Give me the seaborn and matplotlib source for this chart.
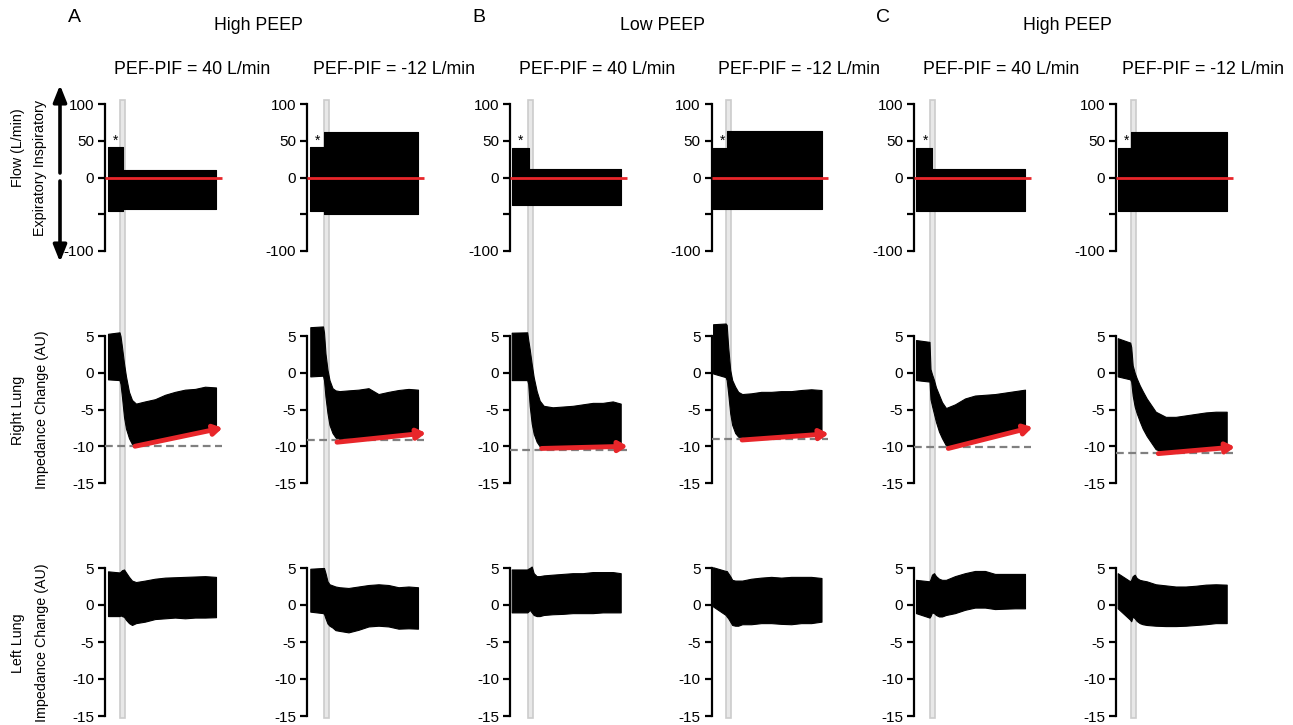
import matplotlib
matplotlib.use('Agg')
import matplotlib.pyplot as plt
import matplotlib.transforms as mtransforms
from matplotlib.patches import Rectangle, FancyArrowPatch
import seaborn as sns

# panel headers
group_letters = ['A', 'B', 'C']
group_titles = ['High PEEP', 'Low PEEP', 'High PEEP']
panel_titles = ['PEF-PIF = 40 L/min', 'PEF-PIF = -12 L/min'] * 3

# timing of each recording (s): first sample, manoeuvre onset, last sample
t_start = [3, 3.3, 1.7, 1.6, 1.7, 1.7]
t_onset = [15, 16.5, 17.7, 14.7, 15.7, 14.7]
t_end = [111, 111, 110.7, 110, 110.7, 110.7]
t_flow_step = [18.3, 16.6, 19.0, 15.5, 18.0, 15.0]
rel_t = [-0.5, 0.5, 2, 4, 6, 9, 12, 16, 25, 35, 45, 55, 65, 75, 85]

# flow envelope (L/min) before / after the step
flow_hi_pre = [42, 42, 40, 40, 40, 40]
flow_hi_post = [10.5, 62.5, 12, 63, 12, 62]
flow_lo_pre = [-45.5, -46, -38, -43, -46, -46]
flow_lo_post = [-43, -49, -38, -43, -46, -46]

# right lung impedance envelope (AU): start, rel_t points, end
rl_hi = [
    [5.3, 5.5, 5.0, 3.5, 1.3, -0.5, -2.6, -3.7, -4.2, -3.9, -3.6, -3.0, -2.6, -2.3, -2.2, -1.9, -2.0],
    [6.2, 6.3, 5.5, 2.6, 0.4, -1.0, -2.1, -2.4, -2.5, -2.4, -2.3, -2.1, -2.9, -2.6, -2.35, -2.2, -2.3],
    [5.45, 5.5, 4.5, 3.2, 1.2, -0.6, -2.5, -3.8, -4.5, -4.7, -4.6, -4.5, -4.3, -4.1, -4.1, -3.9, -4.2],
    [6.6, 6.7, 6.5, 3.5, 0.4, -1.0, -1.9, -2.6, -2.9, -2.8, -2.6, -2.6, -2.5, -2.5, -2.35, -2.25, -2.35],
    [4.45, 4.2, 0.5, -0.2, -1.0, -2.0, -3.0, -4.0, -4.8, -4.3, -3.5, -3.1, -3.0, -2.9, -2.7, -2.5, -2.3],
    [4.7, 4.1, 3.5, 1.0, 0.0, -0.75, -1.7, -2.5, -3.5, -5.3, -6.0, -6.0, -5.8, -5.6, -5.4, -5.3, -5.3],
]
rl_lo = [
    [-0.9, -1.0, -1.5, -3.3, -6.0, -7.6, -8.9, -9.7, -9.9, -9.7, -9.4, -9.1, -8.9, -8.6, -8.3, -8.0, -7.7],
    [-0.5, -0.4, -1.0, -3.3, -5.5, -7.1, -8.2, -8.8, -9.2, -9.3, -9.1, -9.0, -8.85, -8.7, -8.6, -8.45, -8.3],
    [-1.0, -1.0, -1.5, -4.5, -6.9, -8.3, -9.4, -10.0, -10.2, -10.2, -10.15, -10.1, -10.1, -10.05, -10.0, -10.0, -10.0],
    [-0.1, -0.6, -1.0, -2.8, -5.5, -7.1, -8.2, -8.7, -8.9, -8.95, -8.85, -8.75, -8.65, -8.55, -8.5, -8.4, -8.35],
    [-1.0, -1.2, -3.6, -4.5, -5.6, -6.7, -8.0, -8.9, -9.9, -10.1, -9.75, -9.4, -9.1, -8.7, -8.4, -8.0, -7.7],
    [-0.5, -0.9, -1.2, -3.1, -4.6, -5.5, -6.6, -7.6, -8.6, -10.4, -10.9, -10.8, -10.7, -10.6, -10.45, -10.35, -10.25],
]

# left lung impedance envelope (AU)
ll_hi = [
    [4.55, 4.4, 4.5, 4.7, 4.8, 4.4, 3.8, 3.3, 3.1, 3.3, 3.55, 3.7, 3.75, 3.8, 3.85, 3.9, 3.8],
    [4.9, 5.0, 5.0, 4.3, 3.2, 2.8, 2.65, 2.5, 2.4, 2.3, 2.5, 2.7, 2.8, 2.7, 2.4, 2.5, 2.4],
    [4.8, 4.8, 4.9, 5.0, 5.2, 4.3, 3.9, 3.9, 4.0, 4.1, 4.2, 4.3, 4.3, 4.45, 4.45, 4.45, 4.3],
    [5.1, 4.6, 4.6, 4.3, 3.9, 3.4, 3.3, 3.3, 3.3, 3.55, 3.7, 3.8, 3.7, 3.8, 3.8, 3.8, 3.65],
    [3.4, 3.2, 3.5, 4.1, 4.3, 3.9, 3.55, 3.4, 3.4, 3.9, 4.3, 4.6, 4.6, 4.2, 4.2, 4.2, 4.2],
    [4.3, 3.2, 3.4, 3.9, 4.1, 3.65, 3.4, 3.3, 3.2, 2.8, 2.65, 2.5, 2.5, 2.6, 2.75, 2.8, 2.75],
]
ll_lo = [
    [-1.5, -1.5, -1.4, -1.5, -1.6, -2.0, -2.45, -2.7, -2.45, -2.25, -1.9, -1.8, -1.7, -1.8, -1.7, -1.7, -1.65],
    [-0.9, -1.1, -1.2, -1.8, -2.5, -2.8, -3.05, -3.4, -3.5, -3.7, -3.35, -2.9, -2.8, -2.9, -3.2, -3.15, -3.2],
    [-1.0, -1.0, -0.9, -0.65, -1.0, -1.35, -1.5, -1.5, -1.35, -1.25, -1.2, -1.1, -1.1, -1.1, -1.0, -1.0, -1.0],
    [-0.2, -1.35, -1.55, -1.8, -2.25, -2.7, -2.8, -2.8, -2.6, -2.6, -2.45, -2.45, -2.55, -2.6, -2.45, -2.45, -2.25],
    [-1.1, -1.7, -1.5, -1.0, -1.1, -1.35, -1.55, -1.55, -1.35, -1.1, -0.65, -0.35, -0.35, -0.55, -0.5, -0.45, -0.45],
    [-0.45, -2.0, -2.2, -1.55, -1.8, -2.15, -2.45, -2.6, -2.7, -2.8, -2.85, -2.85, -2.8, -2.7, -2.6, -2.45, -2.45],
]

# end-expiratory baseline and trend arrow on the right lung
rl_baseline = [-10, -9.15, -10.5, -9.05, -10.15, -10.9]
arrow_t0 = [30, 30, 31.7, 30.6, 34, 42.3]
arrow_y0 = [-10, -9.45, -10.3, -9.15, -10.3, -11.0]
arrow_t1 = [117.7, 119, 117.7, 117.3, 118.4, 119]
arrow_y1 = [-7.5, -8.2, -10.0, -8.3, -7.4, -10.1]
line_end = 116.5

RED = '#e8262a'
GREY = '#808080'
W, H = 1293, 725

sns.set_theme(style='ticks', rc={'axes.edgecolor': 'black', 'ytick.color': 'black',
                                 'text.color': 'black', 'axes.labelcolor': 'black'})
plt.rcParams['font.family'] = ['Liberation Sans', 'DejaVu Sans']
plt.rcParams['axes.unicode_minus'] = False

fig = plt.figure(figsize=(W / 100, H / 100), dpi=100)

spine_px = [105, 307, 510, 711.5, 914.3, 1116]
rows_px = [(104, 251), (336, 483), (568, 716)]


def make_axis(col, row):
    top, bot = rows_px[row]
    ax = fig.add_axes([spine_px[col] / W, 1 - bot / H, 125 / W, (bot - top) / H])
    ax.set_facecolor('none')
    sns.despine(ax=ax, bottom=True)
    ax.set_xlim(0, 125)
    ax.set_xticks([])
    ax.spines['left'].set_linewidth(1.6)
    ax.tick_params(axis='y', length=5, width=1.6, labelsize=11, pad=3)
    return ax


for i in range(6):
    times = [t_start[i]] + [t_onset[i] + r for r in rel_t] + [t_end[i]]

    # flow
    ax = make_axis(i, 0)
    ft = [t_start[i], t_flow_step[i], t_flow_step[i], t_end[i]]
    ax.fill_between(ft, [flow_lo_pre[i], flow_lo_pre[i], flow_lo_post[i], flow_lo_post[i]],
                    [flow_hi_pre[i], flow_hi_pre[i], flow_hi_post[i], flow_hi_post[i]],
                    color='black', lw=0.8)
    ax.hlines(0, 0, line_end, color=RED, lw=2, zorder=3)
    ax.set_ylim(-100, 100)
    ax.set_yticks([100, 50, 0, -50, -100])
    ax.set_yticklabels(['100', '50', '0', '', '-100'])
    ax.text(11, 50, '*', ha='center', va='center', fontsize=10)
    top_ax = ax

    # right lung
    ax = make_axis(i, 1)
    ax.fill_between(times, rl_lo[i], rl_hi[i], color='black', lw=0.8, clip_on=False)
    ax.hlines(rl_baseline[i], 0, line_end, color=GREY, lw=1.6, ls=(0, (3.5, 2)), zorder=3, clip_on=False)
    ax.add_patch(FancyArrowPatch((arrow_t0[i], arrow_y0[i]), (arrow_t1[i], arrow_y1[i]),
                                 arrowstyle='-|>,head_length=0.5,head_width=0.3', mutation_scale=10,
                                 lw=3.5, color=RED, shrinkA=0, shrinkB=0, zorder=4, clip_on=False))
    ax.set_ylim(-15, 5)
    ax.set_yticks([5, 0, -5, -10, -15])

    # left lung
    ax = make_axis(i, 2)
    ax.fill_between(times, ll_lo[i], ll_hi[i], color='black', lw=0.8, clip_on=False)
    ax.set_ylim(-15, 5)
    ax.set_yticks([5, 0, -5, -10, -15])

    # manoeuvre band across the three rows
    trans = mtransforms.blended_transform_factory(top_ax.transData, fig.transFigure)
    fig.add_artist(Rectangle((t_onset[i], 1 - 718 / H), 5, 618 / H, transform=trans,
                             facecolor='#e8e8e8', edgecolor='#cccccc', lw=1.2, zorder=-1))

    fig.text((spine_px[i] + 87) / W, 1 - 70 / H, panel_titles[i], ha='center', va='center', fontsize=12.8)

for g in range(3):
    mid = (spine_px[2 * g] + spine_px[2 * g + 1]) / 2 + 52
    fig.text(mid / W, 1 - 25 / H, group_titles[g], ha='center', va='center', fontsize=12.8)
    fig.text((spine_px[2 * g] - 31) / W, 1 - 18 / H, group_letters[g], ha='center', va='center', fontsize=14)

# y labels
fig.text(18 / W, 1 - 148 / H, 'Flow (L/min)', rotation=90, ha='center', va='center', fontsize=10.3)
fig.text(40 / W, 1 - 168 / H, 'Expiratory Inspiratory', rotation=90, ha='center', va='center', fontsize=10.3)
for row, name, cy in [(1, 'Right Lung', 410), (2, 'Left Lung', 643)]:
    fig.text(18 / W, 1 - cy / H, name, rotation=90, ha='center', va='center', fontsize=10.3)
    fig.text(42 / W, 1 - cy / H, 'Impedance Change (AU)', rotation=90, ha='center', va='center', fontsize=10.3)

# direction arrows next to the flow axis
for y0, y1 in [(173, 85), (181, 262)]:
    fig.add_artist(FancyArrowPatch((60 / W, 1 - y0 / H), (60 / W, 1 - y1 / H), transform=fig.transFigure,
                                   arrowstyle='-|>,head_length=1.0,head_width=0.4', mutation_scale=10,
                                   lw=2.6, color='black', shrinkA=0, shrinkB=0))

fig.savefig('out.png', dpi=100)
